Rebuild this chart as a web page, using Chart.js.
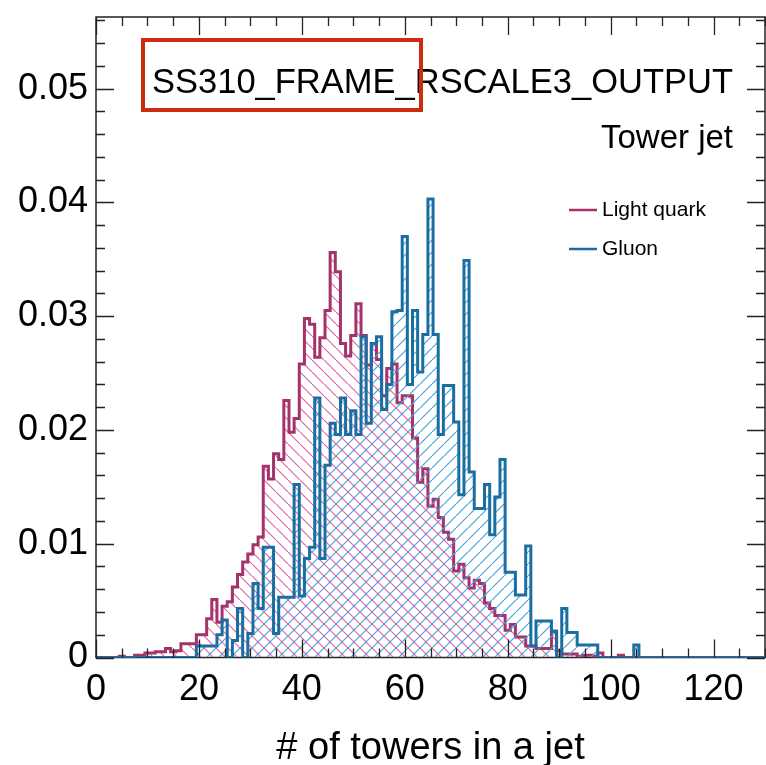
<!DOCTYPE html>
<html>
<head>
<meta charset="utf-8">
<script src="https://cdn.jsdelivr.net/npm/chart.js@4.4.0/dist/chart.umd.min.js"></script>
<style>
  html, body { margin: 0; padding: 0; background: #fff; }
  #wrap { width: 766px; height: 765px; position: relative; }
</style>
</head>
<body>
<div id="wrap"><canvas id="towerChart"></canvas></div>
<script>
// histogram bins: width 1, first bin centred on 0
var firstBinCenter = 0;
var binWidth = 1;

// normalised counts per bin (bins 0 .. 130)
var lightQuark = [
  0, 0, 0, 0, 0,  0.0001, 0, 0, 0.0002, 0.0002,
  0.0004, 0.0004, 0.0005, 0.0005, 0.0008,  0.0005, 0.0006, 0.0012, 0.0012, 0.0012,
  0.0020, 0.0020, 0.0034, 0.0051, 0.0031,  0.0045, 0.0049, 0.0062, 0.0073, 0.0084,
  0.0091, 0.0099, 0.0106, 0.0168, 0.0157,  0.0179, 0.0174, 0.0226, 0.0198, 0.0210,
  0.0258, 0.0298, 0.0293, 0.0264, 0.0281,  0.0305, 0.0356, 0.0339, 0.0276, 0.0265,
  0.0283, 0.0311, 0.0283, 0.0257, 0.0276,  0.0262, 0.0230, 0.0254, 0.0258, 0.0224,
  0.0230, 0.0230, 0.0193, 0.0154, 0.0166,  0.0133, 0.0139, 0.0123, 0.0110, 0.0104,
  0.0076, 0.0082, 0.0070, 0.0061, 0.0068,  0.0065, 0.0048, 0.0043, 0.0037, 0.0037,
  0.0024, 0.0029, 0.0018, 0.0018, 0.0010,  0.0010, 0.0008, 0.0008, 0.0008, 0.0023,
  0.0006, 0.0003, 0.0003, 0.0003, 0.0001,  0.0002, 0.0002, 0.0001, 0.0004, 0,
  0, 0, 0.0002, 0, 0,  0, 0, 0, 0, 0,
  0, 0, 0, 0, 0,  0, 0, 0, 0, 0,
  0, 0, 0, 0, 0,  0, 0, 0, 0, 0,
  0
];
var gluon = [
  0, 0, 0, 0, 0,  0, 0, 0, 0, 0,
  0, 0, 0, 0, 0,  0, 0, 0, 0, 0,
  0.0010, 0.0010, 0.0010, 0.0010, 0.0020,  0.0033, 0, 0.0015, 0.0043, 0,
  0.0021, 0.0065, 0.0043, 0.0097, 0.0097,  0.0021, 0.0053, 0.0053, 0.0053, 0.0152,
  0.0054, 0.0087, 0.0097, 0.0228, 0.0087,  0.0169, 0.0206, 0.0196, 0.0228, 0.0196,
  0.0217, 0.0196, 0.0282, 0.0206, 0.0276,  0.0282, 0.0218, 0.0240, 0.0304, 0.0305,
  0.0370, 0.0240, 0.0305, 0.0251, 0.0284,  0.0403, 0.0284, 0.0196, 0.0239, 0.0239,
  0.0207, 0.0143, 0.0349, 0.0163, 0.0131,  0.0131, 0.0152, 0.0108, 0.0141, 0.0174,
  0.0075, 0.0075, 0.0055, 0.0055, 0.0098,  0.0010, 0.0032, 0.0032, 0.0032, 0.0023,
  0, 0.0043, 0.0022, 0.0022, 0.0011,  0.0011, 0.0011, 0.0011, 0, 0,
  0, 0, 0, 0, 0,  0.0011, 0, 0, 0, 0,
  0, 0, 0, 0, 0,  0, 0, 0, 0, 0,
  0, 0, 0, 0, 0,  0, 0, 0, 0, 0,
  0
];

var seriesNames = ['Light quark', 'Gluon'];
var xTickValues = [0, 20, 40, 60, 80, 100, 120];
var xTickLabels = ['0', '20', '40', '60', '80', '100', '120'];
var yTickValues = [0, 0.01, 0.02, 0.03, 0.04, 0.05];
var yTickLabels = ['0', '0.01', '0.02', '0.03', '0.04', '0.05'];
var xRange = [0, 130];
var yRange = [0, 0.0563];

var plotTitle = 'SS310_FRAME_RSCALE3_OUTPUT';
var subTitle = 'Tower jet';
var xTitle = '# of towers in a jet';

var pinkLine = '#a4336c', pinkHatch = '#e166a5';
var blueLine = '#1a6ea2', blueHatch = '#46a6dd';
var FONT = "'Liberation Sans', Arial, Helvetica, sans-serif";

Chart.defaults.font.family = FONT;
Chart.defaults.color = '#000';

function toSteps(values) {
  var pts = [];
  for (var i = 0; i < values.length; i++) {
    pts.push({ x: firstBinCenter + (i - 0.5) * binWidth, y: values[i] });
  }
  pts.push({ x: firstBinCenter + (values.length - 0.5) * binWidth, y: values[values.length - 1] });
  return pts;
}

function hatch(ctx, color, forward) {
  var s = 12;
  var c = document.createElement('canvas');
  c.width = s; c.height = s;
  var g = c.getContext('2d');
  g.strokeStyle = color;
  g.lineWidth = 1.2;
  g.beginPath();
  if (forward) { g.moveTo(-2, s + 2); g.lineTo(s + 2, -2); }
  else { g.moveTo(-2, -2); g.lineTo(s + 2, s + 2); }
  g.stroke();
  return ctx.createPattern(c, 'repeat');
}

function labelFor(values, labels, v) {
  for (var i = 0; i < values.length; i++) {
    if (Math.abs(values[i] - v) < 1e-9) return labels[i];
  }
  return '';
}

// ROOT-like frame, inward ticks on all four sides, and pad texts
var rootFrame = {
  id: 'rootFrame',
  beforeDatasetsDraw: function (chart) {
    var ctx = chart.ctx, a = chart.chartArea;
    ctx.save();
    ctx.strokeStyle = '#222';
    ctx.lineWidth = 1.5;
    ctx.strokeRect(a.left, a.top, a.right - a.left, a.bottom - a.top);
    ctx.restore();
  },
  afterDatasetsDraw: function (chart) {
    var ctx = chart.ctx, a = chart.chartArea;
    var xs = chart.scales.x, ys = chart.scales.y;
    ctx.save();
    ctx.strokeStyle = '#222';
    ctx.lineWidth = 1.3;
    ctx.beginPath();
    for (var k = 0; k * 5 <= xRange[1]; k++) {
      var px = Math.round(xs.getPixelForValue(k * 5)) + 0.5;
      var len = (k % 4 === 0) ? 18 : 9;
      ctx.moveTo(px, a.bottom); ctx.lineTo(px, a.bottom - len);
      ctx.moveTo(px, a.top); ctx.lineTo(px, a.top + len);
    }
    for (var j = 0; j * 0.002 <= yRange[1]; j++) {
      var py = Math.round(ys.getPixelForValue(j * 0.002)) + 0.5;
      var ylen = (j % 5 === 0) ? 18 : 9;
      ctx.moveTo(a.left, py); ctx.lineTo(a.left + ylen, py);
      ctx.moveTo(a.right, py); ctx.lineTo(a.right - ylen, py);
    }
    ctx.stroke();

    // title + red annotation box
    ctx.fillStyle = '#000';
    ctx.textAlign = 'left';
    ctx.textBaseline = 'alphabetic';
    ctx.font = '35px ' + FONT;
    ctx.fillText(plotTitle, 152, 93, 581);
    ctx.strokeStyle = '#cc2d10';
    ctx.lineWidth = 4;
    ctx.strokeRect(143, 40, 278, 70);

    ctx.textAlign = 'right';
    ctx.font = '33px ' + FONT;
    ctx.fillText(subTitle, 733, 148);

    // legend
    var legendColors = [pinkLine, blueLine];
    var legendY = [210, 249];
    ctx.font = '21px ' + FONT;
    ctx.textAlign = 'left';
    ctx.textBaseline = 'middle';
    for (var n = 0; n < seriesNames.length; n++) {
      ctx.strokeStyle = legendColors[n];
      ctx.lineWidth = 2.5;
      ctx.beginPath();
      ctx.moveTo(569, legendY[n]); ctx.lineTo(597, legendY[n]);
      ctx.stroke();
      ctx.fillText(seriesNames[n], 602, legendY[n]);
    }
    ctx.restore();
  }
};

var canvas = document.getElementById('towerChart');
var ctx = canvas.getContext('2d');

new Chart(ctx, {
  type: 'line',
  data: {
    datasets: [{
      label: seriesNames[1],
      data: toSteps(gluon),
      stepped: true,
      borderColor: blueLine,
      borderWidth: 3,
      backgroundColor: hatch(ctx, blueHatch, true),
      fill: 'origin',
      pointRadius: 0,
      tension: 0
    }, {
      label: seriesNames[0],
      data: toSteps(lightQuark),
      stepped: true,
      borderColor: pinkLine,
      borderWidth: 3,
      backgroundColor: hatch(ctx, pinkHatch, false),
      fill: 'origin',
      pointRadius: 0,
      tension: 0
    }]
  },
  options: {
    responsive: true,
    maintainAspectRatio: false,
    animation: false,
    events: [],
    layout: { padding: { top: 17, right: 1, left: 0, bottom: 0 } },
    plugins: {
      legend: { display: false },
      tooltip: { enabled: false },
      title: { display: false }
    },
    scales: {
      x: {
        type: 'linear',
        min: xRange[0],
        max: xRange[1],
        afterFit: function (s) {
          s.height = 107.5;
          s.paddingLeft = 0; s.paddingRight = 0;
        },
        grid: { display: false, drawTicks: false },
        border: { display: false },
        ticks: {
          stepSize: 20,
          includeBounds: false,
          autoSkip: false,
          maxRotation: 0,
          padding: 11,
          font: { size: 36 },
          color: '#000',
          callback: function (v) { return labelFor(xTickValues, xTickLabels, v); }
        },
        title: {
          display: true,
          text: xTitle,
          font: { size: 38, lineHeight: 1 },
          color: '#000',
          padding: { top: 0, bottom: -3 }
        }
      },
      y: {
        type: 'linear',
        min: yRange[0],
        max: yRange[1],
        afterFit: function (s) {
          s.width = 96;
          s.paddingTop = 0; s.paddingBottom = 0;
        },
        grid: { display: false, drawTicks: false },
        border: { display: false },
        ticks: {
          stepSize: 0.01,
          includeBounds: false,
          autoSkip: false,
          padding: 8,
          font: { size: 36 },
          color: '#000',
          callback: function (v) { return labelFor(yTickValues, yTickLabels, v); }
        }
      }
    }
  },
  plugins: [rootFrame]
});
</script>
</body>
</html>
